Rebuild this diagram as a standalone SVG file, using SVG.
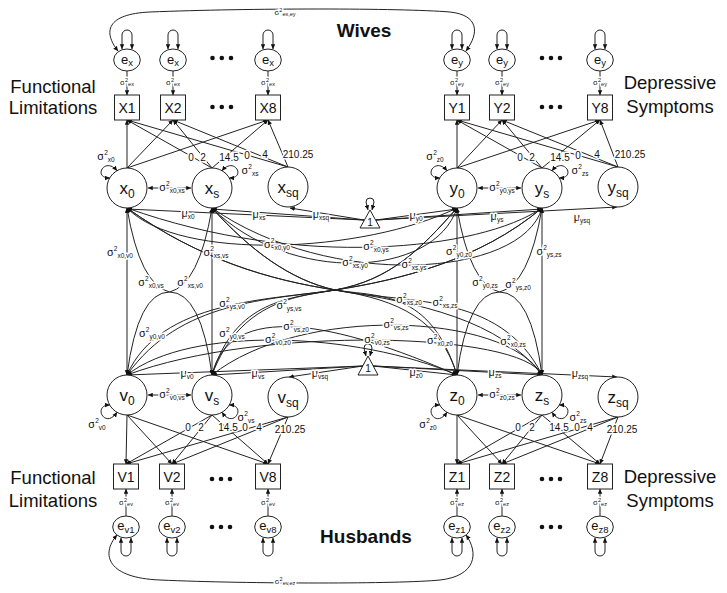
<svg xmlns="http://www.w3.org/2000/svg" width="727" height="593" viewBox="0 0 727 593">
<defs>
<marker id="ar" viewBox="0 0 10 10" refX="9.5" refY="5" markerWidth="5" markerHeight="5" markerUnits="userSpaceOnUse" orient="auto-start-reverse"><path d="M0,0.5 L10,5 L0,9.5 z" fill="#111"/></marker>
</defs>
<style>
text{font-family:"Liberation Sans",Arial,sans-serif;fill:#111}
.c path,.c line{fill:none;stroke:#222;stroke-width:1}
.a{marker-end:url(#ar)}
.b{marker-start:url(#ar);marker-end:url(#ar)}
.n circle,.n ellipse,.n rect,.n polygon{fill:#fff;stroke:#222;stroke-width:1}
.h{stroke:#fff;stroke-width:3;stroke-linejoin:round;paint-order:stroke}
.s{font-size:11px}
.u{font-size:6.5px}
.sm{font-size:8px}
.uu{font-size:5.5px}
.lo{font-size:10px}
.big{font-size:18.5px}
.bold{font-size:19px;font-weight:bold}
.lt{font-size:17px}
.ls{font-size:12px}
.e{font-size:13px}
.es{font-size:9.5px}
.bx{font-size:14px}
.dot{fill:#111}
.gray{opacity:0.995}
</style>
<rect width="727" height="593" fill="#fff"/>
<g class="gray">
<g id="connectors" class="c">
<!-- residual covariances between spouses -->
<path class="b" d="M118,51 C103,32 106,14 150,12 C250,8 400,8 450,12 C478,15 480,32 466,51"/>
<path class="b" d="M117,535 C100,555 108,578 160,580 C250,584 400,584 440,580 C476,576 479,553 466,535"/>
<!-- residual variance loops top -->
<path class="b" d="M122,49 L122,35 A5,5 0 0 1 132,35 L132,49"/>
<path class="b" d="M168,49 L168,35 A5,5 0 0 1 178,35 L178,49"/>
<path class="b" d="M263,49 L263,35 A5,5 0 0 1 273,35 L273,49"/>
<path class="b" d="M452,49 L452,35 A5,5 0 0 1 462,35 L462,49"/>
<path class="b" d="M497,49 L497,35 A5,5 0 0 1 507,35 L507,49"/>
<path class="b" d="M595,49 L595,35 A5,5 0 0 1 605,35 L605,49"/>
<!-- residual variance loops bottom -->
<path class="b" d="M121,538 L121,551 A5,5 0 0 0 131,551 L131,538"/>
<path class="b" d="M167,538 L167,551 A5,5 0 0 0 177,551 L177,538"/>
<path class="b" d="M263,538 L263,551 A5,5 0 0 0 273,551 L273,538"/>
<path class="b" d="M452,538 L452,551 A5,5 0 0 0 462,551 L462,538"/>
<path class="b" d="M497,538 L497,551 A5,5 0 0 0 507,551 L507,538"/>
<path class="b" d="M595,538 L595,551 A5,5 0 0 0 605,551 L605,538"/>
<!-- residual paths -->
<line class="a" x1="127" y1="71" x2="127" y2="95"/>
<line class="a" x1="173" y1="71" x2="173" y2="95"/>
<line class="a" x1="268" y1="71" x2="268" y2="95"/>
<line class="a" x1="457" y1="71" x2="457" y2="95"/>
<line class="a" x1="502" y1="71" x2="502" y2="95"/>
<line class="a" x1="600" y1="71" x2="600" y2="95"/>
<line class="a" x1="126" y1="516" x2="126" y2="489"/>
<line class="a" x1="172" y1="516" x2="172" y2="489"/>
<line class="a" x1="268" y1="516" x2="268" y2="489"/>
<line class="a" x1="457" y1="516" x2="457" y2="489"/>
<line class="a" x1="502" y1="516" x2="502" y2="489"/>
<line class="a" x1="600" y1="516" x2="600" y2="489"/>
<!-- loadings wives -->
<line class="a" x1="127" y1="168" x2="127" y2="120"/>
<line class="a" x1="127" y1="168" x2="173" y2="120"/>
<line class="a" x1="127" y1="168" x2="268" y2="120"/>
<line class="a" x1="212" y1="168" x2="127" y2="120"/>
<line class="a" x1="212" y1="168" x2="173" y2="120"/>
<line class="a" x1="212" y1="168" x2="268" y2="120"/>
<line class="a" x1="288" y1="167" x2="127" y2="120"/>
<line class="a" x1="288" y1="167" x2="173" y2="120"/>
<line class="a" x1="288" y1="167" x2="268" y2="120"/>
<line class="a" x1="457" y1="168" x2="457" y2="120"/>
<line class="a" x1="457" y1="168" x2="502" y2="120"/>
<line class="a" x1="457" y1="168" x2="600" y2="120"/>
<line class="a" x1="542" y1="168" x2="457" y2="120"/>
<line class="a" x1="542" y1="168" x2="502" y2="120"/>
<line class="a" x1="542" y1="168" x2="600" y2="120"/>
<line class="a" x1="618" y1="167" x2="457" y2="120"/>
<line class="a" x1="618" y1="167" x2="502" y2="120"/>
<line class="a" x1="618" y1="167" x2="600" y2="120"/>
<!-- loadings husbands -->
<line class="a" x1="127" y1="415" x2="126" y2="464"/>
<line class="a" x1="127" y1="415" x2="172" y2="464"/>
<line class="a" x1="127" y1="415" x2="268" y2="464"/>
<line class="a" x1="212" y1="415" x2="126" y2="464"/>
<line class="a" x1="212" y1="415" x2="172" y2="464"/>
<line class="a" x1="212" y1="415" x2="268" y2="464"/>
<line class="a" x1="288" y1="417" x2="126" y2="464"/>
<line class="a" x1="288" y1="417" x2="172" y2="464"/>
<line class="a" x1="288" y1="417" x2="268" y2="464"/>
<line class="a" x1="457" y1="415" x2="457" y2="464"/>
<line class="a" x1="457" y1="415" x2="502" y2="464"/>
<line class="a" x1="457" y1="415" x2="600" y2="464"/>
<line class="a" x1="542" y1="415" x2="457" y2="464"/>
<line class="a" x1="542" y1="415" x2="502" y2="464"/>
<line class="a" x1="542" y1="415" x2="600" y2="464"/>
<line class="a" x1="618" y1="417" x2="457" y2="464"/>
<line class="a" x1="618" y1="417" x2="502" y2="464"/>
<line class="a" x1="618" y1="417" x2="600" y2="464"/>
<!-- factor variance loops -->
<path class="b" d="M109.7,178 C92,178 105,156 117,170.7"/>
<path class="b" d="M222,170.7 C234,156 247,178 229.3,178"/>
<path class="b" d="M439.7,178 C422,178 435,156 447,170.7"/>
<path class="b" d="M552,170.7 C564,156 577,178 559.3,178"/>
<path class="b" d="M117,412.3 C105,430 92,405 109.7,405"/>
<path class="b" d="M222,412.3 C234,430 247,405 229.3,405"/>
<path class="b" d="M447,412.3 C435,430 422,405 439.7,405"/>
<path class="b" d="M552,412.3 C564,430 577,405 559.3,405"/>
<!-- intercept-slope covariances -->
<line class="b" x1="148" y1="188" x2="191" y2="188"/>
<line class="b" x1="478" y1="188" x2="521" y2="188"/>
<line class="b" x1="148" y1="395" x2="191" y2="395"/>
<line class="b" x1="478" y1="395" x2="521" y2="395"/>
<!-- means -->
<path class="b" d="M368,210 L366,202 A4,4 0 0 1 374,202 L372,210"/>
<path class="b" d="M366,356 L364,348 A4,4 0 0 1 372,348 L370,356"/>
<line class="a" x1="364" y1="220" x2="127" y2="209"/>
<line class="a" x1="364" y1="220" x2="212" y2="209"/>
<line class="a" x1="364" y1="220" x2="290" y2="208"/>
<line class="a" x1="376" y1="220" x2="457" y2="209"/>
<line class="a" x1="376" y1="220" x2="542" y2="209"/>
<line class="a" x1="376" y1="220" x2="617" y2="207"/>
<line class="a" x1="363" y1="366" x2="127" y2="375"/>
<line class="a" x1="363" y1="366" x2="212" y2="375"/>
<line class="a" x1="363" y1="366" x2="289" y2="377"/>
<line class="a" x1="373" y1="366" x2="457" y2="375"/>
<line class="a" x1="373" y1="366" x2="542" y2="375"/>
<line class="a" x1="373" y1="366" x2="617" y2="377"/>
<!-- growth factor covariances -->
<path class="b" d="M127,208 L127,375"/>
<path class="b" d="M212,208 L212,375"/>
<path class="b" d="M127,208 Q140,285 169.5,292 Q201,292 212,375"/>
<path class="b" d="M212,208 Q199,285 169.5,292 Q138,292 127,375"/>
<path class="b" d="M457,208 L457,375"/>
<path class="b" d="M542,208 L542,375"/>
<path class="b" d="M457,208 Q470,285 499.5,292 Q531,292 542,375"/>
<path class="b" d="M542,208 Q529,285 499.5,292 Q468,292 457,375"/>
<path class="b" d="M127,208 C180,262 364,253 457,208"/>
<path class="b" d="M127,208 C300,270 480,250 542,208"/>
<path class="b" d="M212,208 C290,285 434,278 457,208"/>
<path class="b" d="M212,208 C330,290 522,278 542,208"/>
<path class="b" d="M127,375 C190,325 357,332 457,375"/>
<path class="b" d="M127,375 C260,325 522,332 542,375"/>
<path class="b" d="M212,375 C230,300 336,322 457,375"/>
<path class="b" d="M212,375 C300,305 505,312 542,375"/>
<path class="b" d="M127,208 C200,260 270,280 335,290 C400,300 440,320 457,375"/>
<path class="b" d="M127,208 C200,260 270,280 335,290 C420,303 500,320 542,375"/>
<path class="b" d="M212,208 C250,250 290,280 335,290 C380,297 430,290 457,375"/>
<path class="b" d="M212,208 C250,250 290,280 335,290 C400,304 500,290 542,375"/>
<path class="b" d="M457,208 C420,250 390,280 335,290 C270,300 160,300 127,375"/>
<path class="b" d="M457,208 C420,250 390,280 335,290 C290,298 235,300 212,375"/>
<path class="b" d="M542,208 C480,260 400,280 335,290 C270,300 180,300 127,375"/>
<path class="b" d="M542,208 C480,260 400,280 335,290 C300,296 240,300 212,375"/>
</g>

<g id="ex1" class="n"><ellipse cx="127" cy="60" rx="13.3" ry="11"/><text class="e" x="127" y="63.5" text-anchor="middle">e<tspan class="es" dy="2.5">x</tspan></text></g>
<g id="ex2" class="n"><ellipse cx="173" cy="60" rx="13.3" ry="11"/><text class="e" x="173" y="63.5" text-anchor="middle">e<tspan class="es" dy="2.5">x</tspan></text></g>
<g id="ex8" class="n"><ellipse cx="268" cy="60" rx="13.3" ry="11"/><text class="e" x="268" y="63.5" text-anchor="middle">e<tspan class="es" dy="2.5">x</tspan></text></g>
<g id="ey1" class="n"><ellipse cx="457" cy="60" rx="13.3" ry="11"/><text class="e" x="457" y="63.5" text-anchor="middle">e<tspan class="es" dy="2.5">y</tspan></text></g>
<g id="ey2" class="n"><ellipse cx="502" cy="60" rx="13.3" ry="11"/><text class="e" x="502" y="63.5" text-anchor="middle">e<tspan class="es" dy="2.5">y</tspan></text></g>
<g id="ey8" class="n"><ellipse cx="600" cy="60" rx="13.3" ry="11"/><text class="e" x="600" y="63.5" text-anchor="middle">e<tspan class="es" dy="2.5">y</tspan></text></g>

<g id="X1" class="n"><rect x="114.5" y="95" width="25" height="25"/><text class="bx" x="127" y="112.5" text-anchor="middle">X1</text></g>
<g id="X2" class="n"><rect x="160.5" y="95" width="25" height="25"/><text class="bx" x="173" y="112.5" text-anchor="middle">X2</text></g>
<g id="X8" class="n"><rect x="255.5" y="95" width="25" height="25"/><text class="bx" x="268" y="112.5" text-anchor="middle">X8</text></g>
<g id="Y1" class="n"><rect x="444.5" y="95" width="25" height="25"/><text class="bx" x="457" y="112.5" text-anchor="middle">Y1</text></g>
<g id="Y2" class="n"><rect x="489.5" y="95" width="25" height="25"/><text class="bx" x="502" y="112.5" text-anchor="middle">Y2</text></g>
<g id="Y8" class="n"><rect x="587.5" y="95" width="25" height="25"/><text class="bx" x="600" y="112.5" text-anchor="middle">Y8</text></g>

<g id="x0" class="n"><circle cx="127" cy="188" r="20"/><text class="lt" x="127" y="194" text-anchor="middle">x<tspan class="ls" dy="4">0</tspan></text></g>
<g id="xs" class="n"><circle cx="212" cy="188" r="20"/><text class="lt" x="212" y="194" text-anchor="middle">x<tspan class="ls" dy="4">s</tspan></text></g>
<g id="xsq" class="n"><circle cx="288" cy="187" r="20"/><text class="lt" x="288" y="193" text-anchor="middle">x<tspan class="ls" dy="4">sq</tspan></text></g>
<g id="y0" class="n"><circle cx="457" cy="188" r="20"/><text class="lt" x="457" y="194" text-anchor="middle">y<tspan class="ls" dy="4">0</tspan></text></g>
<g id="ys" class="n"><circle cx="542" cy="188" r="20"/><text class="lt" x="542" y="194" text-anchor="middle">y<tspan class="ls" dy="4">s</tspan></text></g>
<g id="ysq" class="n"><circle cx="618" cy="187" r="20"/><text class="lt" x="618" y="193" text-anchor="middle">y<tspan class="ls" dy="4">sq</tspan></text></g>

<g id="one_w" class="n"><polygon points="370,210 360,228 380,228"/><text class="lo" x="370" y="226" text-anchor="middle">1</text></g>
<g id="one_h" class="n"><polygon points="368,356 358,375 378,375"/><text class="lo" x="368" y="372" text-anchor="middle">1</text></g>

<g id="v0" class="n"><circle cx="127" cy="395" r="20"/><text class="lt" x="127" y="401" text-anchor="middle">v<tspan class="ls" dy="4">0</tspan></text></g>
<g id="vs" class="n"><circle cx="212" cy="395" r="20"/><text class="lt" x="212" y="401" text-anchor="middle">v<tspan class="ls" dy="4">s</tspan></text></g>
<g id="vsq" class="n"><circle cx="288" cy="397" r="20"/><text class="lt" x="288" y="403" text-anchor="middle">v<tspan class="ls" dy="4">sq</tspan></text></g>
<g id="z0" class="n"><circle cx="457" cy="395" r="20"/><text class="lt" x="457" y="401" text-anchor="middle">z<tspan class="ls" dy="4">0</tspan></text></g>
<g id="zs" class="n"><circle cx="542" cy="395" r="20"/><text class="lt" x="542" y="401" text-anchor="middle">z<tspan class="ls" dy="4">s</tspan></text></g>
<g id="zsq" class="n"><circle cx="618" cy="397" r="20"/><text class="lt" x="618" y="403" text-anchor="middle">z<tspan class="ls" dy="4">sq</tspan></text></g>

<g id="V1" class="n"><rect x="113.5" y="464" width="25" height="25"/><text class="bx" x="126" y="481.5" text-anchor="middle">V1</text></g>
<g id="V2" class="n"><rect x="159.5" y="464" width="25" height="25"/><text class="bx" x="172" y="481.5" text-anchor="middle">V2</text></g>
<g id="V8" class="n"><rect x="255.5" y="464" width="25" height="25"/><text class="bx" x="268" y="481.5" text-anchor="middle">V8</text></g>
<g id="Z1" class="n"><rect x="444.5" y="464" width="25" height="25"/><text class="bx" x="457" y="481.5" text-anchor="middle">Z1</text></g>
<g id="Z2" class="n"><rect x="489.5" y="464" width="25" height="25"/><text class="bx" x="502" y="481.5" text-anchor="middle">Z2</text></g>
<g id="Z8" class="n"><rect x="587.5" y="464" width="25" height="25"/><text class="bx" x="600" y="481.5" text-anchor="middle">Z8</text></g>

<g id="ev1" class="n"><ellipse cx="126" cy="527" rx="13.3" ry="11"/><text class="e" x="126" y="530" text-anchor="middle">e<tspan class="es" dy="2.5">v1</tspan></text></g>
<g id="ev2" class="n"><ellipse cx="172" cy="527" rx="13.3" ry="11"/><text class="e" x="172" y="530" text-anchor="middle">e<tspan class="es" dy="2.5">v2</tspan></text></g>
<g id="ev8" class="n"><ellipse cx="268" cy="527" rx="13.3" ry="11"/><text class="e" x="268" y="530" text-anchor="middle">e<tspan class="es" dy="2.5">v8</tspan></text></g>
<g id="ez1" class="n"><ellipse cx="457" cy="527" rx="13.3" ry="11"/><text class="e" x="457" y="530" text-anchor="middle">e<tspan class="es" dy="2.5">z1</tspan></text></g>
<g id="ez2" class="n"><ellipse cx="502" cy="527" rx="13.3" ry="11"/><text class="e" x="502" y="530" text-anchor="middle">e<tspan class="es" dy="2.5">z2</tspan></text></g>
<g id="ez8" class="n"><ellipse cx="600" cy="527" rx="13.3" ry="11"/><text class="e" x="600" y="530" text-anchor="middle">e<tspan class="es" dy="2.5">z8</tspan></text></g>

<g id="ellipses">
<circle class="dot" cx="212.5" cy="58" r="2.3"/><circle class="dot" cx="221.8" cy="58" r="2.3"/><circle class="dot" cx="231" cy="58" r="2.3"/>
<circle class="dot" cx="212.5" cy="107" r="2.3"/><circle class="dot" cx="221.8" cy="107" r="2.3"/><circle class="dot" cx="231" cy="107" r="2.3"/>
<circle class="dot" cx="542" cy="58" r="2.3"/><circle class="dot" cx="551" cy="58" r="2.3"/><circle class="dot" cx="560" cy="58" r="2.3"/>
<circle class="dot" cx="542" cy="107" r="2.3"/><circle class="dot" cx="551" cy="107" r="2.3"/><circle class="dot" cx="560" cy="107" r="2.3"/>
<circle class="dot" cx="212" cy="479" r="2.3"/><circle class="dot" cx="221" cy="479" r="2.3"/><circle class="dot" cx="230" cy="479" r="2.3"/>
<circle class="dot" cx="212" cy="527" r="2.3"/><circle class="dot" cx="221" cy="527" r="2.3"/><circle class="dot" cx="230" cy="527" r="2.3"/>
<circle class="dot" cx="542" cy="479" r="2.3"/><circle class="dot" cx="551" cy="479" r="2.3"/><circle class="dot" cx="560" cy="479" r="2.3"/>
<circle class="dot" cx="542" cy="527" r="2.3"/><circle class="dot" cx="551" cy="527" r="2.3"/><circle class="dot" cx="560" cy="527" r="2.3"/>
</g>

<g id="titles">
<text class="bold" x="364" y="37" text-anchor="middle">Wives</text>
<text class="bold" x="366" y="543" text-anchor="middle">Husbands</text>
<text class="big" x="53" y="92.5" text-anchor="middle">Functional</text>
<text class="big" x="53" y="114" text-anchor="middle">Limitations</text>
<text class="big" x="670" y="89" text-anchor="middle">Depressive</text>
<text class="big" x="670" y="113" text-anchor="middle">Symptoms</text>
<text class="big" x="53" y="484" text-anchor="middle">Functional</text>
<text class="big" x="53" y="507" text-anchor="middle">Limitations</text>
<text class="big" x="670" y="483" text-anchor="middle">Depressive</text>
<text class="big" x="670" y="507" text-anchor="middle">Symptoms</text>
</g>

<g id="labels" text-anchor="middle">
<text class="sm h" x="285" y="15">σ<tspan class="uu" dy="-3.5">2</tspan><tspan class="uu" dy="4.5">ex,ey</tspan></text>
<text class="sm h" x="285" y="584">σ<tspan class="uu" dy="-3.5">2</tspan><tspan class="uu" dy="4.5">ev,ez</tspan></text>
<text class="sm h" x="127" y="85">σ<tspan class="uu" dy="-3.5">2</tspan><tspan class="uu" dy="4.5">ex</tspan></text>
<text class="sm h" x="173" y="85">σ<tspan class="uu" dy="-3.5">2</tspan><tspan class="uu" dy="4.5">ex</tspan></text>
<text class="sm h" x="268" y="85">σ<tspan class="uu" dy="-3.5">2</tspan><tspan class="uu" dy="4.5">ex</tspan></text>
<text class="sm h" x="457" y="85">σ<tspan class="uu" dy="-3.5">2</tspan><tspan class="uu" dy="4.5">ey</tspan></text>
<text class="sm h" x="502" y="85">σ<tspan class="uu" dy="-3.5">2</tspan><tspan class="uu" dy="4.5">ey</tspan></text>
<text class="sm h" x="600" y="85">σ<tspan class="uu" dy="-3.5">2</tspan><tspan class="uu" dy="4.5">ey</tspan></text>
<text class="sm h" x="126" y="505">σ<tspan class="uu" dy="-3.5">2</tspan><tspan class="uu" dy="4.5">ev</tspan></text>
<text class="sm h" x="172" y="505">σ<tspan class="uu" dy="-3.5">2</tspan><tspan class="uu" dy="4.5">ev</tspan></text>
<text class="sm h" x="268" y="505">σ<tspan class="uu" dy="-3.5">2</tspan><tspan class="uu" dy="4.5">ev</tspan></text>
<text class="sm h" x="457" y="505">σ<tspan class="uu" dy="-3.5">2</tspan><tspan class="uu" dy="4.5">ez</tspan></text>
<text class="sm h" x="502" y="505">σ<tspan class="uu" dy="-3.5">2</tspan><tspan class="uu" dy="4.5">ez</tspan></text>
<text class="sm h" x="600" y="505">σ<tspan class="uu" dy="-3.5">2</tspan><tspan class="uu" dy="4.5">ez</tspan></text>

<text class="lo h" x="191" y="161">0</text>
<text class="lo h" x="203" y="161">2</text>
<text class="lo h" x="229" y="161">14.5</text>
<text class="lo h" x="247" y="159">0</text>
<text class="lo h" x="265" y="158">4</text>
<text class="lo h" x="298" y="158">210.25</text>
<text class="lo h" x="520" y="161">0</text>
<text class="lo h" x="532" y="161">2</text>
<text class="lo h" x="560" y="161">14.5</text>
<text class="lo h" x="578" y="159">0</text>
<text class="lo h" x="597" y="158">4</text>
<text class="lo h" x="630" y="158">210.25</text>
<text class="lo h" x="188" y="431">0</text>
<text class="lo h" x="201" y="431">2</text>
<text class="lo h" x="228" y="431">14.5</text>
<text class="lo h" x="245" y="431">0</text>
<text class="lo h" x="259" y="431">4</text>
<text class="lo h" x="290" y="433">210.25</text>
<text class="lo h" x="518" y="431">0</text>
<text class="lo h" x="532" y="431">2</text>
<text class="lo h" x="559" y="431">14.5</text>
<text class="lo h" x="577" y="431">0</text>
<text class="lo h" x="590" y="431">4</text>
<text class="lo h" x="622" y="433">210.25</text>

<text class="s h" x="106" y="160">σ<tspan class="u" dy="-5">2</tspan><tspan class="u" dy="7">x0</tspan></text>
<text class="s h" x="250" y="174">σ<tspan class="u" dy="-5">2</tspan><tspan class="u" dy="7">xs</tspan></text>
<text class="s h" x="435" y="160">σ<tspan class="u" dy="-5">2</tspan><tspan class="u" dy="7">z0</tspan></text>
<text class="s h" x="580" y="174">σ<tspan class="u" dy="-5">2</tspan><tspan class="u" dy="7">zs</tspan></text>
<text class="s h" x="97" y="428">σ<tspan class="u" dy="-5">2</tspan><tspan class="u" dy="7">v0</tspan></text>
<text class="s h" x="246" y="421">σ<tspan class="u" dy="-5">2</tspan><tspan class="u" dy="7">vs</tspan></text>
<text class="s h" x="428" y="428">σ<tspan class="u" dy="-5">2</tspan><tspan class="u" dy="7">z0</tspan></text>
<text class="s h" x="578" y="421">σ<tspan class="u" dy="-5">2</tspan><tspan class="u" dy="7">zs</tspan></text>

<text class="s h" x="172" y="191">σ<tspan class="u" dy="-5">2</tspan><tspan class="u" dy="7">x0,xs</tspan></text>
<text class="s h" x="502" y="191">σ<tspan class="u" dy="-5">2</tspan><tspan class="u" dy="7">y0,ys</tspan></text>
<text class="s h" x="172" y="398">σ<tspan class="u" dy="-5">2</tspan><tspan class="u" dy="7">v0,vs</tspan></text>
<text class="s h" x="502" y="398">σ<tspan class="u" dy="-5">2</tspan><tspan class="u" dy="7">z0,zs</tspan></text>

<text class="s h" x="188" y="217">μ<tspan class="u" dy="2">x0</tspan></text>
<text class="s h" x="259" y="218">μ<tspan class="u" dy="2">xs</tspan></text>
<text class="s h" x="321" y="218">μ<tspan class="u" dy="2">xsq</tspan></text>
<text class="s h" x="416" y="219">μ<tspan class="u" dy="2">y0</tspan></text>
<text class="s h" x="497" y="220">μ<tspan class="u" dy="2">ys</tspan></text>
<text class="s h" x="582" y="221">μ<tspan class="u" dy="2">ysq</tspan></text>
<text class="s h" x="187" y="377">μ<tspan class="u" dy="2">v0</tspan></text>
<text class="s h" x="258" y="377">μ<tspan class="u" dy="2">vs</tspan></text>
<text class="s h" x="320" y="377">μ<tspan class="u" dy="2">vsq</tspan></text>
<text class="s h" x="416" y="376">μ<tspan class="u" dy="2">z0</tspan></text>
<text class="s h" x="495" y="376">μ<tspan class="u" dy="2">zs</tspan></text>
<text class="s h" x="580" y="377">μ<tspan class="u" dy="2">zsq</tspan></text>

<text class="s h" x="120" y="256">σ<tspan class="u" dy="-5">2</tspan><tspan class="u" dy="7">x0,v0</tspan></text>
<text class="s h" x="216" y="256">σ<tspan class="u" dy="-5">2</tspan><tspan class="u" dy="7">xs,vs</tspan></text>
<text class="s h" x="151" y="286">σ<tspan class="u" dy="-5">2</tspan><tspan class="u" dy="7">x0,vs</tspan></text>
<text class="s h" x="190" y="286">σ<tspan class="u" dy="-5">2</tspan><tspan class="u" dy="7">xs,v0</tspan></text>
<text class="s h" x="459" y="255">σ<tspan class="u" dy="-5">2</tspan><tspan class="u" dy="7">y0,z0</tspan></text>
<text class="s h" x="549" y="255">σ<tspan class="u" dy="-5">2</tspan><tspan class="u" dy="7">ys,zs</tspan></text>
<text class="s h" x="485" y="286">σ<tspan class="u" dy="-5">2</tspan><tspan class="u" dy="7">y0,zs</tspan></text>
<text class="s h" x="518" y="288">σ<tspan class="u" dy="-5">2</tspan><tspan class="u" dy="7">ys,z0</tspan></text>
<text class="s h" x="277" y="248">σ<tspan class="u" dy="-5">2</tspan><tspan class="u" dy="7">x0,y0</tspan></text>
<text class="s h" x="376" y="250">σ<tspan class="u" dy="-5">2</tspan><tspan class="u" dy="7">x0,ys</tspan></text>
<text class="s h" x="355" y="266">σ<tspan class="u" dy="-5">2</tspan><tspan class="u" dy="7">xs,y0</tspan></text>
<text class="s h" x="414" y="268">σ<tspan class="u" dy="-5">2</tspan><tspan class="u" dy="7">xs,ys</tspan></text>
<text class="s h" x="278" y="343">σ<tspan class="u" dy="-5">2</tspan><tspan class="u" dy="7">v0,z0</tspan></text>
<text class="s h" x="377" y="343">σ<tspan class="u" dy="-5">2</tspan><tspan class="u" dy="7">v0,zs</tspan></text>
<text class="s h" x="296" y="330">σ<tspan class="u" dy="-5">2</tspan><tspan class="u" dy="7">vs,z0</tspan></text>
<text class="s h" x="396" y="328">σ<tspan class="u" dy="-5">2</tspan><tspan class="u" dy="7">vs,zs</tspan></text>
<text class="s h" x="440" y="344">σ<tspan class="u" dy="-5">2</tspan><tspan class="u" dy="7">x0,z0</tspan></text>
<text class="s h" x="513" y="345">σ<tspan class="u" dy="-5">2</tspan><tspan class="u" dy="7">x0,zs</tspan></text>
<text class="s h" x="409" y="303">σ<tspan class="u" dy="-5">2</tspan><tspan class="u" dy="7">xs,z0</tspan></text>
<text class="s h" x="445" y="306">σ<tspan class="u" dy="-5">2</tspan><tspan class="u" dy="7">xs,zs</tspan></text>
<text class="s h" x="152" y="337">σ<tspan class="u" dy="-5">2</tspan><tspan class="u" dy="7">y0,v0</tspan></text>
<text class="s h" x="232" y="337">σ<tspan class="u" dy="-5">2</tspan><tspan class="u" dy="7">y0,vs</tspan></text>
<text class="s h" x="232" y="307">σ<tspan class="u" dy="-5">2</tspan><tspan class="u" dy="7">ys,v0</tspan></text>
<text class="s h" x="289" y="309">σ<tspan class="u" dy="-5">2</tspan><tspan class="u" dy="7">ys,vs</tspan></text>
</g>
</g>
</svg>
